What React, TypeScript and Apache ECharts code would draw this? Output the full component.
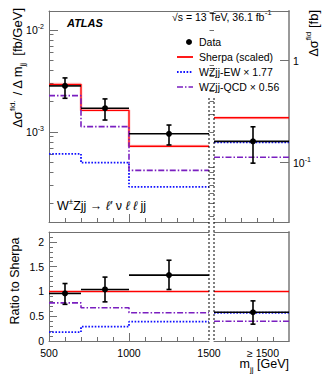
import React, { useEffect, useRef } from 'react';
import * as echarts from 'echarts';

// ---------- data ----------
const binEdges = [500, 700, 1000, 1500];
const dataVals = [2.83e-3, 1.71e-3, 9.6e-4];
const dataLo = [2.14e-3, 1.31e-3, 7.46e-4];
const dataHi = [3.39e-3, 2.11e-3, 1.17e-3];
const sherpaVals = [2.93e-3, 1.63e-3, 7.25e-4];
const ewVals = [6.1e-4, 5.0e-4, 2.9e-4];
const qcdVals = [2.27e-3, 1.13e-3, 4.2e-4];

// overflow bin m_jj >= 1500, in fb (right axis)
const ofData = [0.162];
const ofLo = [0.099];
const ofHi = [0.225];
const ofSherpa = [0.276];
const ofEw = [0.158];
const ofQcd = [0.113];

// ratio to Sherpa (3 bins + overflow)
const ratioData = [0.96, 1.04, 1.33, 0.58];
const ratioLo = [0.74, 0.79, 1.04, 0.34];
const ratioHi = [1.16, 1.29, 1.63, 0.81];
const ratioSherpa = [1, 1, 1, 1];
const ratioEw = [0.18, 0.29, 0.39, 0.57];
const ratioQcd = [0.77, 0.67, 0.57, 0.4];

// ---------- ticks ----------
const xLabels = [500, 1000, 1500];
const xMajor = [1000];
const xMinor = [600, 700, 800, 900, 1100, 1200, 1300, 1400];
const ulMajor = [1e-3, 1e-2];
const ulMinor = [2e-4, 3e-4, 4e-4, 5e-4, 6e-4, 7e-4, 8e-4, 9e-4, 2e-3, 3e-3, 4e-3, 5e-3, 6e-3, 7e-3, 8e-3, 9e-3];
const urMajor = [0.1, 1];
const urMinor = [0.03, 0.04, 0.05, 0.06, 0.07, 0.08, 0.09, 0.2, 0.3, 0.4, 0.5, 0.6, 0.7, 0.8, 0.9, 2, 3];
const rMajor = [0, 0.5, 1, 1.5, 2];
const rMinor = [0.1, 0.2, 0.3, 0.4, 0.6, 0.7, 0.8, 0.9, 1.1, 1.2, 1.3, 1.4, 1.6, 1.7, 1.8, 1.9, 2.1];
const ofTicks = [0.147, 0.36, 0.573, 0.787];
const ofLabelPos = [0.653];
const ofLabel = '≥ 1500';
const ofX = 0.52;

// ---------- layout ----------
const FONT = 'Liberation Sans, Arial, Helvetica, sans-serif';
const AX = '#707070';
const G = {
  ul: { left: 49, top: 11, width: 160, height: 211 },
  ur: { left: 214, top: 11, width: 75, height: 211 },
  ll: { left: 49, top: 232, width: 160, height: 109 },
  lr: { left: 214, top: 232, width: 75, height: 109 },
};
const Y_MIN = 1.311e-4;
const Y_MAX = 1.535e-2;
const R_FACTOR = 200;
const RATIO_MAX = 2.2;

const RED = '#ff0000';
const BLUE = '#1010ff';
const PURPLE = '#7a1fc0';
const DOT = [1.6, 1.6];
const DASHDOT = [6, 2, 1.5, 2];

function stepPts(edges: number[], vals: number[]) {
  const pts: number[][] = [];
  vals.forEach((v, i) => {
    pts.push([edges[i], v]);
    pts.push([edges[i + 1], v]);
  });
  return pts;
}

function flat(v: number) {
  return [[0, v], [1, v]];
}

const supRich = {
  sup: { fontSize: 7, verticalAlign: 'top', lineHeight: 7, fontFamily: FONT, fill: '#000', color: '#000' },
};

function powLabel(v: number) {
  const e = Math.round(Math.log10(v));
  return e === 0 ? '1' : `10{sup|${e}}`;
}

function line(width = 1, color = AX) {
  return { show: true, onZero: false, lineStyle: { color, width } };
}
function ticks(values: number[], length: number) {
  return { show: true, inside: true, length, customValues: values, lineStyle: { color: AX, width: 1 } };
}

function xAx(gridIndex: number, position: string, min: number, max: number, extra: any) {
  return {
    type: 'value', gridIndex, position, min, max,
    axisLine: { show: false }, axisTick: { show: false }, axisLabel: { show: false }, splitLine: { show: false },
    ...extra,
  };
}

function lineSeries(data: number[][], xi: number, yi: number, color: string, type: any, width: number) {
  return {
    type: 'line', data, xAxisIndex: xi, yAxisIndex: yi, symbol: 'none', silent: true,
    lineStyle: { color, width, type }, itemStyle: { color }, z: 3,
  };
}

function renderErr(params: any, api: any) {
  const xc = api.value(0), y = api.value(1), lo = api.value(2), hi = api.value(3), xl = api.value(4), xr = api.value(5);
  const pC = api.coord([xc, y]);
  const pL = api.coord([xl, y]);
  const pR = api.coord([xr, y]);
  const pLo = api.coord([xc, lo]);
  const pHi = api.coord([xc, hi]);
  const cap = 2.5;
  const st = { stroke: '#000', lineWidth: 1.6 };
  return {
    type: 'group',
    children: [
      { type: 'line', shape: { x1: pL[0], y1: pL[1], x2: pR[0], y2: pR[1] }, style: st },
      { type: 'line', shape: { x1: pC[0], y1: pLo[1], x2: pC[0], y2: pHi[1] }, style: st },
      { type: 'line', shape: { x1: pC[0] - cap, y1: pLo[1], x2: pC[0] + cap, y2: pLo[1] }, style: st },
      { type: 'line', shape: { x1: pC[0] - cap, y1: pHi[1], x2: pC[0] + cap, y2: pHi[1] }, style: st },
      { type: 'circle', shape: { cx: pC[0], cy: pC[1], r: 3 }, style: { fill: '#000' } },
    ],
  };
}

function errSeries(data: number[][], xi: number, yi: number) {
  return {
    type: 'custom', xAxisIndex: xi, yAxisIndex: yi, data, renderItem: renderErr,
    encode: { x: 0, y: 1 }, itemStyle: { color: '#000' }, z: 5, silent: true, clip: false,
  };
}

function buildOption() {
  const centers = dataVals.map((_, i) => (binEdges[i] + binEdges[i + 1]) / 2);
  const upData = dataVals.map((v, i) => [centers[i], v, dataLo[i], dataHi[i], binEdges[i], binEdges[i + 1]]);
  const ofUp = [[ofX, ofData[0], ofLo[0], ofHi[0], 0, 1]];
  const nb = dataVals.length;
  const loData = centers.map((c, i) => [c, ratioData[i], ratioLo[i], ratioHi[i], binEdges[i], binEdges[i + 1]]);
  const ofLow = [[ofX, ratioData[nb], ratioLo[nb], ratioHi[nb], 0, 1]];

  const textStyle = (text: string, size: number, extra: any = {}) => ({
    text, fontSize: size, fontFamily: FONT, fill: '#000', lineHeight: 18,
    rich: {
      sup: { fontSize: 8, verticalAlign: 'top', lineHeight: 8, fontFamily: FONT, fill: '#000' },
      sub: { fontSize: 8, verticalAlign: 'bottom', lineHeight: 8, fontFamily: FONT, fill: '#000' },
      it: { fontSize: size, fontStyle: 'italic', fontFamily: FONT, fill: '#000' },
    },
    ...extra,
  });

  const sepX1 = G.ul.left + G.ul.width;
  const sepX2 = G.ur.left;
  const sepBottom = G.ll.top + G.ll.height;
  const BAND = 'rgba(255,0,0,0.13)';

  return {
    animation: false,
    backgroundColor: '#ffffff',
    grid: [G.ul, G.ur, G.ll, G.lr].map((g) => ({ ...g, containLabel: false })),
    xAxis: [
      xAx(0, 'bottom', 500, 1500, { axisLine: line(), axisTick: ticks(xMinor, 4) }),
      xAx(0, 'bottom', 500, 1500, { axisTick: ticks(xMajor, 8) }),
      xAx(0, 'top', 500, 1500, { axisLine: line() }),
      xAx(1, 'bottom', 0, 1, { axisLine: line(), axisTick: ticks(ofTicks, 4) }),
      xAx(1, 'top', 0, 1, { axisLine: line() }),
      xAx(2, 'bottom', 500, 1500, {
        axisLine: line(), axisTick: ticks(xMinor, 4),
        axisLabel: { show: true, customValues: xLabels, formatter: (v: number) => String(v), margin: 6, fontSize: 10.5, color: '#000', fontFamily: FONT },
      }),
      xAx(2, 'bottom', 500, 1500, { axisTick: ticks(xMajor, 8) }),
      xAx(2, 'top', 500, 1500, { axisLine: line() }),
      xAx(3, 'bottom', 0, 1, {
        axisLine: line(), axisTick: ticks(ofTicks, 4),
        axisLabel: { show: true, customValues: ofLabelPos, formatter: () => ofLabel, margin: 6, fontSize: 10.5, color: '#000', fontFamily: FONT },
      }),
      xAx(3, 'top', 0, 1, { axisLine: line() }),
    ],
    yAxis: [
      {
        type: 'log', logBase: 10, gridIndex: 0, position: 'left', min: Y_MIN, max: Y_MAX,
        axisLine: line(), axisTick: ticks(ulMajor, 9), splitLine: { show: false },
        axisLabel: { show: true, customValues: ulMajor, formatter: powLabel, margin: 5, fontSize: 10.5, lineHeight: 14, color: '#000', fontFamily: FONT, rich: supRich },
      },
      {
        type: 'log', logBase: 10, gridIndex: 0, position: 'left', min: Y_MIN, max: Y_MAX,
        axisLine: { show: false }, axisTick: ticks(ulMinor, 4.5), axisLabel: { show: false }, splitLine: { show: false },
      },
      {
        type: 'log', logBase: 10, gridIndex: 1, position: 'right', min: Y_MIN * R_FACTOR, max: Y_MAX * R_FACTOR,
        axisLine: line(2, '#9a9a9a'), axisTick: ticks(urMajor, 9), splitLine: { show: false },
        axisLabel: { show: true, customValues: urMajor, formatter: powLabel, margin: 4, fontSize: 10.5, lineHeight: 14, color: '#000', fontFamily: FONT, rich: supRich },
      },
      {
        type: 'log', logBase: 10, gridIndex: 1, position: 'right', min: Y_MIN * R_FACTOR, max: Y_MAX * R_FACTOR,
        axisLine: { show: false }, axisTick: ticks(urMinor, 4.5), axisLabel: { show: false }, splitLine: { show: false },
      },
      {
        type: 'value', gridIndex: 2, position: 'left', min: 0, max: RATIO_MAX,
        axisLine: line(), axisTick: ticks(rMajor, 8), splitLine: { show: false },
        axisLabel: { show: true, customValues: rMajor, margin: 5, fontSize: 10.5, color: '#000', fontFamily: FONT },
      },
      {
        type: 'value', gridIndex: 2, position: 'left', min: 0, max: RATIO_MAX,
        axisLine: { show: false }, axisTick: ticks(rMinor, 4), axisLabel: { show: false }, splitLine: { show: false },
      },
      {
        type: 'value', gridIndex: 3, position: 'right', min: 0, max: RATIO_MAX,
        axisLine: line(2, '#9a9a9a'), axisTick: { show: false }, axisLabel: { show: false }, splitLine: { show: false },
      },
    ],
    series: [
      // upper left
      lineSeries(stepPts(binEdges, sherpaVals), 0, 0, BAND, 'solid', 3.5),
      lineSeries(stepPts(binEdges, sherpaVals), 0, 0, RED, 'solid', 1.4),
      lineSeries(stepPts(binEdges, ewVals), 0, 0, BLUE, DOT, 1.8),
      lineSeries(stepPts(binEdges, qcdVals), 0, 0, PURPLE, DASHDOT, 1.6),
      errSeries(upData, 0, 0),
      // upper right (overflow)
      lineSeries(flat(ofSherpa[0]), 3, 2, BAND, 'solid', 3.5),
      lineSeries(flat(ofSherpa[0]), 3, 2, RED, 'solid', 1.4),
      lineSeries(flat(ofEw[0]), 3, 2, BLUE, DOT, 1.8),
      lineSeries(flat(ofQcd[0]), 3, 2, PURPLE, DASHDOT, 1.6),
      errSeries(ofUp, 3, 2),
      // lower left (ratio)
      lineSeries(stepPts(binEdges, ratioSherpa.slice(0, nb)), 5, 4, RED, 'solid', 1.4),
      lineSeries(stepPts(binEdges, ratioEw.slice(0, nb)), 5, 4, BLUE, DOT, 1.8),
      lineSeries(stepPts(binEdges, ratioQcd.slice(0, nb)), 5, 4, PURPLE, DASHDOT, 1.6),
      errSeries(loData, 5, 4),
      // lower right (ratio overflow)
      lineSeries(flat(ratioSherpa[nb]), 8, 6, RED, 'solid', 1.4),
      lineSeries(flat(ratioEw[nb]), 8, 6, BLUE, DOT, 1.8),
      lineSeries(flat(ratioQcd[nb]), 8, 6, PURPLE, DASHDOT, 1.6),
      errSeries(ofLow, 8, 6),
    ],
    graphic: [
      // dotted separators between the panels
      { type: 'line', shape: { x1: sepX1, y1: 98, x2: sepX1, y2: sepBottom }, style: { stroke: '#000', lineWidth: 1, lineDash: [2, 2] }, z: 10 },
      { type: 'line', shape: { x1: sepX2, y1: 98, x2: sepX2, y2: sepBottom }, style: { stroke: '#000', lineWidth: 1, lineDash: [2, 2] }, z: 10 },
      // labels
      { type: 'text', x: 67, y: 23, style: { text: 'ATLAS', fontSize: 11, fontWeight: 'bold', fontStyle: 'italic', fontFamily: FONT, fill: '#000', verticalAlign: 'middle' } },
      { type: 'text', x: 172, y: 17, style: textStyle('√s = 13 TeV, 36.1 fb{sup|-1}', 10.5, { verticalAlign: 'middle' }) },
      // legend
      { type: 'circle', shape: { cx: 189, cy: 42, r: 3 }, style: { fill: '#000' } },
      { type: 'line', shape: { x1: 177, y1: 57, x2: 193, y2: 57 }, style: { stroke: RED, lineWidth: 1.8 } },
      { type: 'line', shape: { x1: 177, y1: 72, x2: 193, y2: 72 }, style: { stroke: BLUE, lineWidth: 1.8, lineDash: DOT } },
      { type: 'line', shape: { x1: 177, y1: 87, x2: 193, y2: 87 }, style: { stroke: PURPLE, lineWidth: 1.6, lineDash: DASHDOT } },
      { type: 'text', x: 199, y: 42, style: textStyle('Data', 10.5, { verticalAlign: 'middle' }) },
      { type: 'text', x: 199, y: 57, style: textStyle('Sherpa (scaled)', 10.5, { verticalAlign: 'middle' }) },
      { type: 'text', x: 199, y: 72, style: textStyle('WZjj-EW × 1.77', 10.5, { verticalAlign: 'middle' }) },
      { type: 'text', x: 199, y: 87, style: textStyle('WZjj-QCD × 0.56', 10.5, { verticalAlign: 'middle' }) },
      // process
      { type: 'text', x: 57, y: 206, style: textStyle('W{sup|±}Zjj → {it|ℓ′} ν {it|ℓ ℓ} jj', 12.5, { verticalAlign: 'middle' }) },
      // axis titles
      { type: 'text', x: 17, y: 8, rotation: Math.PI / 2, style: textStyle('Δσ{sup|fid.} / Δ m{sub|jj}  [fb/GeV]', 13, { align: 'right', verticalAlign: 'middle' }) },
      { type: 'text', x: 313, y: 10, rotation: Math.PI / 2, style: textStyle('Δσ{sup|fid} [fb]', 13, { align: 'right', verticalAlign: 'middle' }) },
      { type: 'text', x: 15, y: 281, rotation: Math.PI / 2, style: textStyle('Ratio to Sherpa', 12.5, { align: 'center', verticalAlign: 'middle' }) },
      { type: 'text', x: 289, y: 364, style: textStyle('m{sub|jj} [GeV]', 12.5, { align: 'right', verticalAlign: 'middle' }) },
    ],
  };
}

export default function App() {
  const ref = useRef<HTMLDivElement>(null);
  useEffect(() => {
    if (!ref.current) return;
    const chart = echarts.init(ref.current, null, { renderer: 'svg' });
    chart.setOption(buildOption() as any);
    return () => chart.dispose();
  }, []);
  return (
    <div
      ref={ref}
      style={{ position: 'absolute', left: 0, top: 0, width: 332, height: 375, background: '#fff' }}
    />
  );
}
